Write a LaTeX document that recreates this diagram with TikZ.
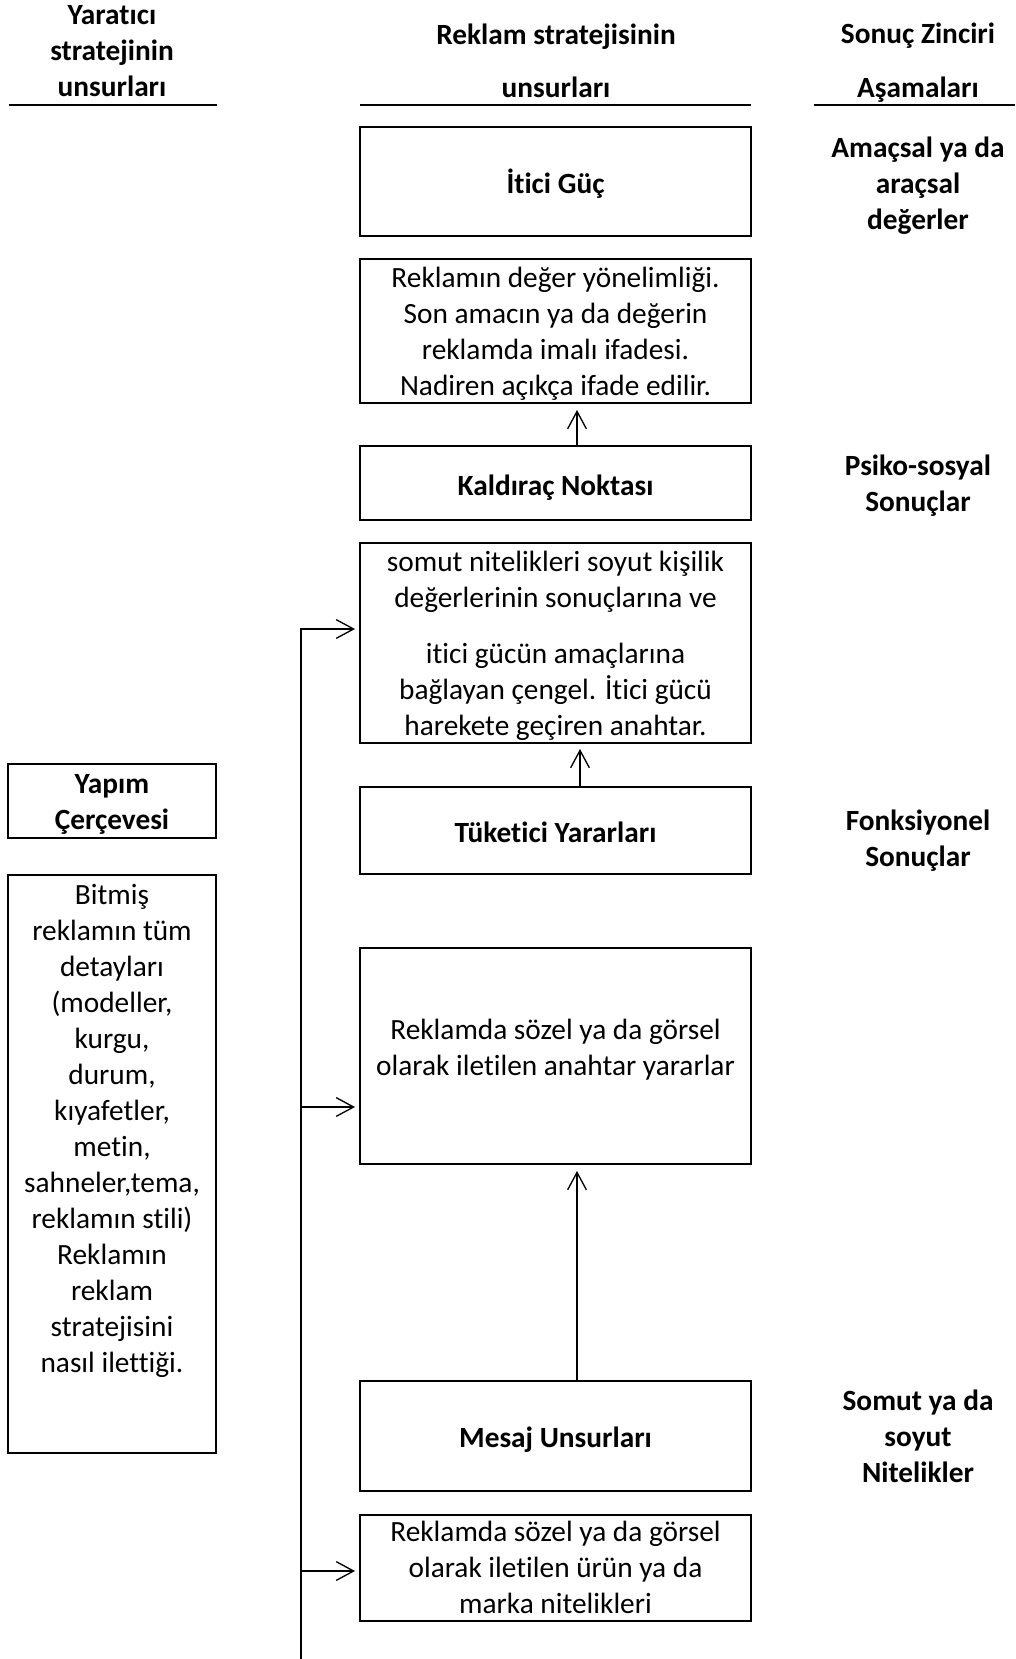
\documentclass[tikz,border=0pt]{standalone}
\usepackage{fontspec}
\setmainfont{Carlito}[Ligatures=NoCommon]
\usetikzlibrary{arrows.meta}
\begin{document}
\begin{tikzpicture}[x=0.75pt,y=-0.75pt,
  every node/.style={font=\fontsize{22}{27}\selectfont},
  box/.style={draw, line width=1.5pt, minimum width=293.25pt, inner sep=0pt},
  lbox/.style={draw, line width=1.5pt, minimum width=155.6pt, inner sep=0pt},
  txt/.style={align=center, inner sep=0pt},
  bold/.style={font=\fontsize{22}{27}\selectfont\bfseries},
  rule/.style={line width=1.5pt},
  arr/.style={line width=1pt, -{Straight Barb[length=13pt,width=14pt]}},
  link/.style={line width=1.2pt}]
\useasboundingbox (0,0) rectangle (1015,1659);

% column headings and their rules
\node[txt, bold] (hleft) at (112,51.5) {Yaratıcı\\stratejinin\\unsurları};
\node[txt, bold] (hmid) at (556,60.5) {Reklam stratejisinin\\[13pt]unsurları};
\node[txt, bold] (hright) at (918,62.6) {Sonuç Zinciri\\[13pt]Aşamaları};
\draw[rule] (8.5,104.8) -- (217,104.8);
\draw[rule] (360,104.8) -- (751,104.8);
\draw[rule] (814,104.8) -- (1015,104.8);

% middle column: strategy elements (frames, then their texts)
\node[box, minimum height=81.75pt] (itici) at (555.5,181.5) {};
\node[box, minimum height=108pt] (deger) at (555.5,331) {};
\node[box, minimum height=55.5pt] (kaldirac) at (555.5,483) {};
\node[box, minimum height=150pt] (cengel) at (555.5,643) {};
\node[box, minimum height=65.25pt] (tuketici) at (555.5,830.5) {};
\node[box, minimum height=162pt] (yarar) at (555.5,1056) {};
\node[box, minimum height=82.5pt] (mesaj) at (555.5,1436) {};
\node[box, minimum height=79.5pt] (nitelik) at (555.5,1568) {};

\node[txt, bold] (iticiT) at (555.5,183.6) {İtici Güç};
\node[txt] (degerT) at (555.5,334.2)
  {Reklamın değer yönelimliği.\\Son amacın ya da değerin\\reklamda imalı ifadesi.\\Nadiren açıkça ifade edilir.};
\node[txt, bold] (kaldiracT) at (555.5,487.2) {Kaldıraç Noktası};
\node[txt] (cengelT) at (555.5,645.6)
  {somut nitelikleri soyut kişilik\\değerlerinin sonuçlarına ve\\[15pt]itici gücün amaçlarına\\bağlayan çengel. İtici gücü\\harekete geçiren anahtar.};
\node[txt, bold] (tuketiciT) at (555.5,832.6) {Tüketici Yararları};
\node[txt] (yararT) at (555.5,1049.6)
  {Reklamda sözel ya da görsel\\olarak iletilen anahtar yararlar};
\node[txt, bold] (mesajT) at (555.5,1439.2) {Mesaj Unsurları};
\node[txt] (nitelikT) at (555.5,1567)
  {Reklamda sözel ya da görsel\\olarak iletilen ürün ya da\\marka nitelikleri};

% left column: execution framework
\node[lbox, minimum height=55.5pt] (yapim) at (112,801) {};
\node[txt, bold] (yapimT) at (112,804.7) {Yapım\\Çerçevesi};
\node[lbox, minimum height=433.5pt] (bitmis) at (112,1164) {};
\node[txt, anchor=north] (bitmisT) at (112,884)
  {Bitmiş\\reklamın tüm\\detayları\\(modeller,\\kurgu,\\durum,\\kıyafetler,\\metin,\\sahneler,tema,\\reklamın stili)\\Reklamın\\reklam\\stratejisini\\nasıl ilettiği.};

% right column: means-end chain levels
\node[txt, bold] (r1) at (918,186.1) {Amaçsal ya da\\araçsal\\değerler};
\node[txt, bold] (r2) at (918,486.1) {Psiko-sosyal\\Sonuçlar};
\node[txt, bold] (r3) at (918,841.1) {Fonksiyonel\\Sonuçlar};
\node[txt, bold] (r4) at (918,1436.5) {Somut ya da\\soyut\\Nitelikler};

% upward links between the strategy boxes
\coordinate (xa) at (577,0);
\coordinate (xb) at (580,0);
\draw[arr, shorten >=4.5pt] (kaldirac.north -| xa) -- (deger.south -| xa);
\draw[arr, shorten >=3.75pt] (tuketici.north -| xb) -- (cengel.south -| xb);
\draw[arr, shorten >=4.5pt] (mesaj.north -| xa) -- (yarar.south -| xa);

% feed line from the execution side
\coordinate (ftop) at (301,628);
\coordinate (fbot) at (301,1659);
\coordinate (f1) at (301,629);
\coordinate (f2) at (301,1107);
\coordinate (f3) at (301,1571);
\draw[link] (ftop) -- (fbot);
\draw[arr, shorten >=3pt] (f1) -- (f1 -| cengel.west);
\draw[arr, shorten >=3pt] (f2) -- (f2 -| yarar.west);
\draw[arr, shorten >=3pt] (f3) -- (f3 -| nitelik.west);
\end{tikzpicture}
\end{document}
